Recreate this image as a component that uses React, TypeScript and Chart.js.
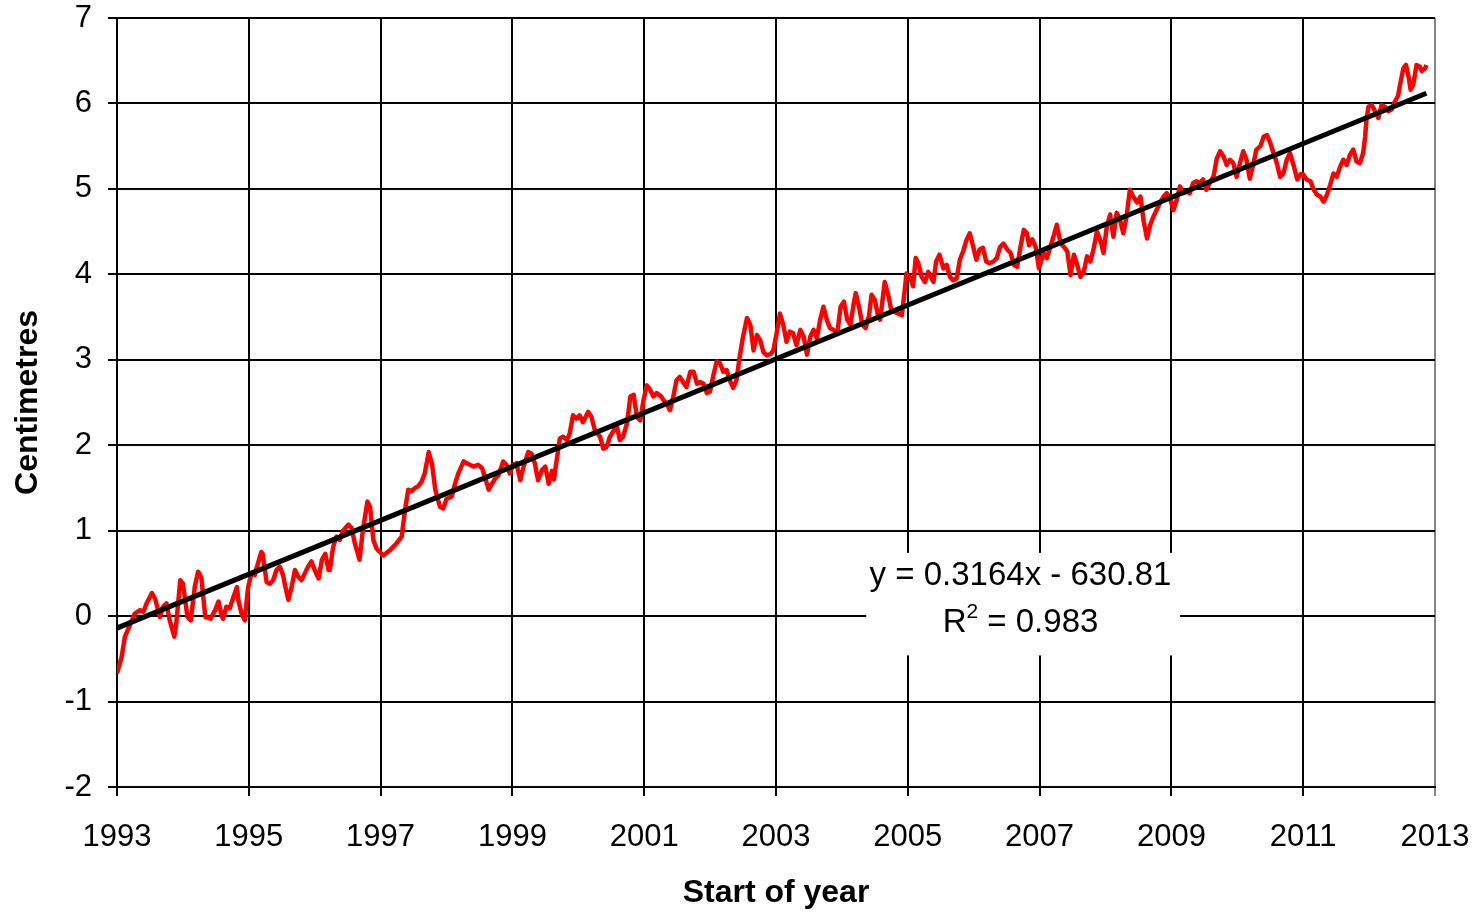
import { useEffect, useRef } from "react";
import { Chart, registerables } from "chart.js";

Chart.register(...registerables);

// Measurement dates (decimal years) and sea level (cm)
const years: number[] = [
  1993.0, 1993.07, 1993.12, 1993.2, 1993.27, 1993.35, 1993.4, 1993.45, 1993.53, 1993.58,
  1993.65, 1993.7, 1993.75, 1993.8, 1993.87, 1993.9, 1993.96, 1994.0, 1994.07, 1994.12,
  1994.18, 1994.23, 1994.28, 1994.34, 1994.42, 1994.49, 1994.54, 1994.59, 1994.61, 1994.66,
  1994.71, 1994.77, 1994.82, 1994.84, 1994.89, 1994.94, 1994.96, 1994.99, 1995.04, 1995.09,
  1995.14, 1995.19, 1995.21, 1995.27, 1995.32, 1995.37, 1995.42, 1995.47, 1995.52, 1995.55,
  1995.6, 1995.65, 1995.7, 1995.75, 1995.8, 1995.85, 1995.9, 1995.95, 1996.0, 1996.06,
  1996.11, 1996.16, 1996.21, 1996.23, 1996.28, 1996.33, 1996.38, 1996.43, 1996.51, 1996.56,
  1996.61, 1996.68, 1996.73, 1996.8, 1996.84, 1996.89, 1996.94, 1997.04, 1997.14, 1997.24,
  1997.32, 1997.37, 1997.42, 1997.47, 1997.52, 1997.57, 1997.62, 1997.67, 1997.73, 1997.78,
  1997.83, 1997.9, 1997.95, 1998.0, 1998.08, 1998.13, 1998.18, 1998.26, 1998.31, 1998.36,
  1998.41, 1998.48, 1998.54, 1998.59, 1998.64, 1998.69, 1998.74, 1998.79, 1998.86, 1998.91,
  1998.96, 1999.01, 1999.06, 1999.12, 1999.17, 1999.24, 1999.29, 1999.34, 1999.39, 1999.45,
  1999.5, 1999.55, 1999.6, 1999.63, 1999.72, 1999.77, 1999.83, 1999.87, 1999.92, 1999.97,
  2000.02, 2000.07, 2000.15, 2000.2, 2000.25, 2000.33, 2000.38, 2000.43, 2000.48, 2000.53,
  2000.58, 2000.63, 2000.68, 2000.74, 2000.79, 2000.84, 2000.89, 2000.94, 2000.99, 2001.04,
  2001.09, 2001.14, 2001.19, 2001.26, 2001.29, 2001.34, 2001.39, 2001.44, 2001.49, 2001.54,
  2001.59, 2001.64, 2001.7, 2001.75, 2001.8, 2001.85, 2001.9, 2001.95, 2002.0, 2002.05,
  2002.1, 2002.15, 2002.2, 2002.25, 2002.3, 2002.35, 2002.4, 2002.45, 2002.5, 2002.56,
  2002.61, 2002.66, 2002.71, 2002.76, 2002.81, 2002.86, 2002.92, 2002.96, 2003.01, 2003.06,
  2003.11, 2003.16, 2003.21, 2003.26, 2003.31, 2003.37, 2003.42, 2003.47, 2003.52, 2003.57,
  2003.62, 2003.67, 2003.72, 2003.77, 2003.82, 2003.87, 2003.93, 2003.98, 2004.03, 2004.08,
  2004.13, 2004.18, 2004.21, 2004.26, 2004.31, 2004.36, 2004.41, 2004.45, 2004.5, 2004.55,
  2004.58, 2004.65, 2004.7, 2004.75, 2004.8, 2004.86, 2004.91, 2004.96, 2004.98, 2005.03,
  2005.08, 2005.12, 2005.16, 2005.21, 2005.26, 2005.31, 2005.39, 2005.43, 2005.48, 2005.54,
  2005.59, 2005.64, 2005.69, 2005.74, 2005.79, 2005.84, 2005.89, 2005.94, 2005.99, 2006.04,
  2006.09, 2006.14, 2006.19, 2006.24, 2006.3, 2006.35, 2006.4, 2006.45, 2006.51, 2006.56,
  2006.61, 2006.66, 2006.71, 2006.76, 2006.81, 2006.84, 2006.89, 2006.94, 2006.99, 2007.06,
  2007.11, 2007.17, 2007.21, 2007.26, 2007.32, 2007.37, 2007.42, 2007.47, 2007.52, 2007.57,
  2007.62, 2007.67, 2007.72, 2007.77, 2007.82, 2007.87, 2007.93, 2007.97, 2008.02, 2008.07,
  2008.12, 2008.17, 2008.22, 2008.27, 2008.32, 2008.37, 2008.42, 2008.48, 2008.53, 2008.58,
  2008.63, 2008.68, 2008.73, 2008.78, 2008.83, 2008.88, 2008.93, 2008.98, 2009.03, 2009.08,
  2009.13, 2009.18, 2009.23, 2009.28, 2009.33, 2009.38, 2009.43, 2009.48, 2009.53, 2009.58,
  2009.64, 2009.69, 2009.74, 2009.79, 2009.84, 2009.89, 2009.94, 2009.99, 2010.04, 2010.09,
  2010.14, 2010.19, 2010.24, 2010.29, 2010.35, 2010.4, 2010.45, 2010.5, 2010.55, 2010.6,
  2010.65, 2010.7, 2010.75, 2010.8, 2010.86, 2010.91, 2010.96, 2011.0, 2011.05, 2011.11,
  2011.16, 2011.21, 2011.26, 2011.31, 2011.36, 2011.41, 2011.46, 2011.51, 2011.56, 2011.61,
  2011.66, 2011.71, 2011.76, 2011.81, 2011.86, 2011.91, 2011.94, 2011.96, 2011.99, 2012.04,
  2012.09, 2012.14, 2012.19, 2012.24, 2012.29, 2012.34, 2012.39, 2012.44, 2012.47, 2012.52,
  2012.56, 2012.6, 2012.63, 2012.67, 2012.72, 2012.77, 2012.8, 2012.85, 2012.87,
];

const centimetres: number[] = [
  -0.67, -0.48, -0.24, -0.1, 0.03, 0.07, 0.05, 0.15, 0.27, 0.2,
  -0.01, 0.11, 0.15, -0.05, -0.24, -0.08, 0.42, 0.38, -0.01, -0.05,
  0.34, 0.52, 0.45, -0.01, -0.03, 0.07, 0.17, 0.0, -0.03, 0.11,
  0.09, 0.23, 0.34, 0.19, 0.03, -0.05, 0.12, 0.34, 0.5, 0.48,
  0.62, 0.75, 0.73, 0.4, 0.38, 0.42, 0.54, 0.58, 0.48, 0.36,
  0.19, 0.34, 0.54, 0.46, 0.42, 0.5, 0.58, 0.64, 0.54, 0.44,
  0.66, 0.73, 0.54, 0.54, 0.81, 0.93, 0.89, 1.0, 1.07, 1.03,
  0.85, 0.66, 1.0, 1.34, 1.28, 0.89, 0.79, 0.71, 0.77, 0.85,
  0.93, 1.24, 1.48, 1.46, 1.5, 1.52, 1.57, 1.67, 1.92, 1.78,
  1.48, 1.28, 1.26, 1.37, 1.4, 1.55, 1.67, 1.81, 1.79, 1.77,
  1.75, 1.77, 1.73, 1.61, 1.48, 1.55, 1.61, 1.65, 1.81, 1.77,
  1.67, 1.77, 1.79, 1.59, 1.75, 1.92, 1.9, 1.79, 1.59, 1.71,
  1.75, 1.55, 1.7, 1.6, 2.08, 2.1, 2.06, 2.14, 2.35, 2.31,
  2.35, 2.27, 2.39, 2.33, 2.18, 2.1, 1.96, 1.98, 2.1, 2.16,
  2.24, 2.06, 2.1, 2.26, 2.57, 2.59, 2.33, 2.29, 2.53, 2.7,
  2.65, 2.57, 2.61, 2.57, 2.53, 2.49, 2.41, 2.56, 2.76, 2.8,
  2.74, 2.68, 2.86, 2.86, 2.72, 2.74, 2.72, 2.61, 2.63, 2.82,
  2.98, 2.96, 2.86, 2.88, 2.76, 2.67, 2.76, 3.04, 3.27, 3.49,
  3.41, 3.11, 3.29, 3.23, 3.09, 3.05, 3.07, 3.11, 3.31, 3.54,
  3.41, 3.21, 3.33, 3.31, 3.17, 3.35, 3.27, 3.06, 3.27, 3.35,
  3.25, 3.47, 3.62, 3.47, 3.37, 3.35, 3.31, 3.62, 3.68, 3.47,
  3.41, 3.66, 3.78, 3.62, 3.41, 3.37, 3.51, 3.76, 3.7, 3.51,
  3.47, 3.91, 3.77, 3.58, 3.56, 3.54, 3.52, 3.86, 4.01, 3.97,
  3.86, 4.19, 4.13, 3.97, 3.91, 4.03, 3.91, 4.15, 4.23, 4.07,
  4.11, 3.97, 3.93, 3.95, 4.17, 4.27, 4.4, 4.48, 4.33, 4.17,
  4.29, 4.31, 4.15, 4.13, 4.15, 4.19, 4.32, 4.36, 4.29, 4.25,
  4.11, 4.09, 4.32, 4.52, 4.48, 4.34, 4.41, 4.32, 4.07, 4.25,
  4.19, 4.34, 4.44, 4.58, 4.36, 4.32, 4.27, 3.99, 4.23, 4.11,
  3.97, 4.03, 4.21, 4.15, 4.3, 4.5, 4.38, 4.25, 4.56, 4.7,
  4.44, 4.72, 4.64, 4.48, 4.68, 4.99, 4.91, 4.84, 4.91, 4.62,
  4.42, 4.58, 4.68, 4.76, 4.84, 4.91, 4.95, 4.89, 4.75, 4.87,
  5.03, 4.95, 4.97, 4.95, 5.07, 5.09, 5.07, 5.11, 4.99, 5.07,
  5.15, 5.36, 5.44, 5.38, 5.28, 5.34, 5.3, 5.14, 5.3, 5.44,
  5.34, 5.12, 5.28, 5.46, 5.5, 5.61, 5.63, 5.54, 5.42, 5.3,
  5.14, 5.18, 5.34, 5.42, 5.26, 5.11, 5.17, 5.17, 5.11, 5.09,
  4.99, 4.93, 4.91, 4.85, 4.93, 5.05, 5.18, 5.14, 5.26, 5.34,
  5.28, 5.4, 5.46, 5.32, 5.3, 5.42, 5.61, 5.81, 5.96, 5.98,
  5.91, 5.83, 5.98, 5.96, 5.91, 5.93, 6.02, 6.09, 6.22, 6.41,
  6.45, 6.31, 6.16, 6.22, 6.45, 6.43, 6.38, 6.41, 6.45,
];

// Linear trend line end points
const trendYears: number[] = [1993.0, 2012.87];
const trendValues: number[] = [-0.14, 6.12];

const equationText = "y = 0.3164x - 630.81";
const rSquaredBase = "R";
const rSquaredExp = "2";
const rSquaredRest = " = 0.983";

const FONT = "'Liberation Sans', Arial, Helvetica, sans-serif";

const annotationPlugin = {
  id: "trendAnnotation",
  beforeDatasetsDraw(chart: any) {
    const { ctx, scales } = chart;
    const xs = scales.x;
    const ys = scales.y;
    const x0 = xs.getPixelForValue(2004.37);
    const x1 = xs.getPixelForValue(2009.13);
    const y0 = ys.getPixelForValue(0.74);
    const y1 = ys.getPixelForValue(-0.46);
    ctx.save();
    ctx.fillStyle = "#ffffff";
    ctx.fillRect(x0, y0, x1 - x0, y1 - y0);
    ctx.fillStyle = "#000000";
    const mainFont = `33px ${FONT}`;
    const supFont = `21px ${FONT}`;
    ctx.font = mainFont;
    ctx.textAlign = "center";
    ctx.textBaseline = "middle";
    const cx = xs.getPixelForValue(2006.71);
    ctx.fillText(equationText, cx, ys.getPixelForValue(0.47));

    // R² line with a raised, smaller exponent
    const yR = ys.getPixelForValue(-0.08);
    ctx.textAlign = "left";
    const wBase = ctx.measureText(rSquaredBase).width;
    const wRest = ctx.measureText(rSquaredRest).width;
    ctx.font = supFont;
    const wExp = ctx.measureText(rSquaredExp).width;
    const total = wBase + wExp + wRest;
    let sx = cx - total / 2;
    ctx.font = mainFont;
    ctx.fillText(rSquaredBase, sx, yR);
    sx += wBase;
    ctx.font = supFont;
    ctx.fillText(rSquaredExp, sx, yR - 11);
    sx += wExp;
    ctx.font = mainFont;
    ctx.fillText(rSquaredRest, sx, yR);
    ctx.restore();
  },
};

export default function App() {
  const canvasRef = useRef<HTMLCanvasElement | null>(null);

  useEffect(() => {
    if (!canvasRef.current) return;
    const seaLevel = years.map((x, i) => ({ x, y: centimetres[i] }));
    const trend = trendYears.map((x, i) => ({ x, y: trendValues[i] }));

    const chart = new Chart(canvasRef.current, {
      type: "line",
      data: {
        datasets: [
          {
            label: "Trend",
            data: trend,
            borderColor: "#000000",
            borderWidth: 5,
            pointRadius: 0,
            fill: false,
          },
          {
            label: "Sea level",
            data: seaLevel,
            borderColor: "#ff0000",
            borderWidth: 4.5,
            pointRadius: 0,
            fill: false,
            tension: 0,
            borderJoinStyle: "round",
          },
        ],
      },
      options: {
        responsive: false,
        animation: false,
        layout: { padding: { top: 18, right: 43, left: 0, bottom: 0 } },
        plugins: {
          legend: { display: false },
          tooltip: { enabled: false },
        },
        scales: {
          x: {
            type: "linear",
            min: 1993,
            max: 2013,
            afterFit: (scale: any) => {
              scale.height = 125;
              scale.paddingLeft = 0;
              scale.paddingRight = 0;
            },
            ticks: {
              stepSize: 2,
              color: "#000000",
              font: { family: FONT, size: 31 },
              padding: 23,
              maxRotation: 0,
              callback: (v: any) => String(v),
            },
            grid: {
              color: (c: any) => (c.tick && c.tick.value === 2013 ? "#868686" : "#000000"),
              lineWidth: 2,
              tickLength: 9,
            },
            border: { color: "#000000", width: 2 },
            title: {
              display: true,
              text: "Start of year",
              color: "#000000",
              font: { family: FONT, size: 32, weight: "bold" },
              padding: { top: 0, bottom: 0 },
            },
          },
          y: {
            type: "linear",
            min: -2,
            max: 7,
            afterFit: (scale: any) => {
              scale.width = 117;
              scale.paddingTop = 0;
              scale.paddingBottom = 0;
            },
            ticks: {
              stepSize: 1,
              color: "#000000",
              font: { family: FONT, size: 31 },
              padding: 16,
              callback: (v: any) => String(v),
            },
            grid: {
              color: "#000000",
              lineWidth: 2,
              tickLength: 9,
            },
            border: { color: "#000000", width: 2 },
            title: {
              display: true,
              text: "Centimetres",
              color: "#000000",
              font: { family: FONT, size: 32, weight: "bold" },
              padding: { top: 9, bottom: 0 },
            },
          },
        },
      },
      plugins: [annotationPlugin],
    } as any);

    return () => chart.destroy();
  }, []);

  return (
    <div style={{ position: "absolute", left: 0, top: 0, width: 1478, height: 912, background: "#ffffff" }}>
      <canvas ref={canvasRef} width={1478} height={912} style={{ display: "block" }} />
    </div>
  );
}
